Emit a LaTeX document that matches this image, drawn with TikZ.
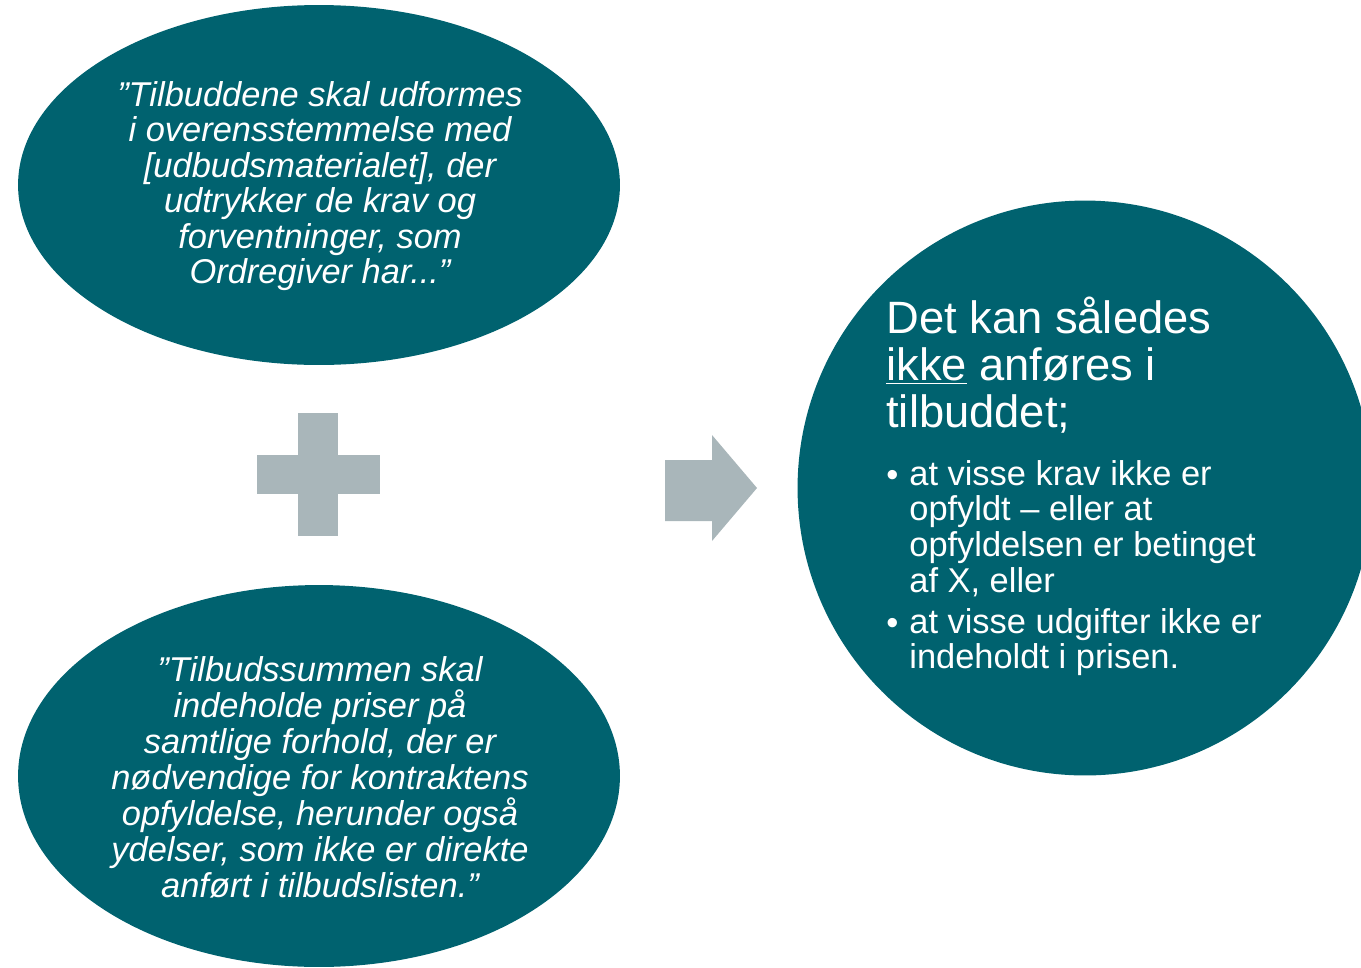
\documentclass[tikz,border=0pt]{standalone}
\usepackage{fontspec}
\setmainfont{Liberation Sans}
\usetikzlibrary{shapes.geometric}

\definecolor{petrol}{HTML}{00626F}
\definecolor{slate}{HTML}{A9B6BA}

\begin{document}
\begin{tikzpicture}[x=0.02cm, y=-0.02cm,
    bubble/.style={ellipse, fill=petrol, inner sep=0pt},
    quote/.style={text=white, align=center, inner sep=0pt,
        font=\fontsize{19.6}{20.2}\selectfont\itshape},
    bodytext/.style={text=white, align=left, inner sep=0pt, anchor=north west,
        font=\fontsize{19.6}{20.3}\selectfont}]
    % Canvas
    \useasboundingbox (0,0) rectangle (1361,967);
    \clip (0,0) rectangle (1361,967);

    % Upper quote
    \node[bubble, minimum width=12.04cm, minimum height=7.2cm] (upper) at (319,185) {};
    \node[quote] (uppertext) at (320,186) {”Tilbuddene skal udformes\\ i overensstemmelse med\\ {[}udbudsmaterialet{]}, der\\ udtrykker de krav og\\ forventninger, som\\ Ordregiver har...”};

    % Lower quote
    \node[bubble, minimum width=12.04cm, minimum height=7.64cm] (lower) at (319,776) {};
    \node[quote, font=\fontsize{19.6}{20.5}\selectfont\itshape] (lowertext) at (320,777) {”Tilbudssummen skal\\ indeholde priser på\\ samtlige forhold, der er\\ nødvendige for kontraktens\\ opfyldelse, herunder også\\ ydelser, som ikke er direkte\\ anført i tilbudslisten.”};

    % Plus sign
    \fill[slate] (257,455) rectangle (380,494);
    \fill[slate] (298,413) rectangle (338,536);

    % Arrow
    \fill[slate] (665,460) -- (712,460) -- (712,435) -- (757,488) -- (712,541)
        -- (712,521) -- (665,521) -- cycle;

    % Conclusion
    \node[circle, fill=petrol, inner sep=0pt, minimum size=11.5cm] (result) at (1085,488) {};
    \node[bodytext, font=\fontsize{25.8}{26.6}\selectfont] (heading) at (886,297) {Det kan således\\ \underline{ikke} anføres i\\ tilbuddet;};
    \node[bodytext, anchor=base west] (bulletone) at (886,486) {•};
    \node[bodytext] (itemone) at (909,460) {at visse krav ikke er\\ opfyldt – eller at\\ opfyldelsen er betinget\\ af X, eller};
    \node[bodytext, anchor=base west] (bullettwo) at (886,634) {•};
    \node[bodytext] (itemtwo) at (909,608) {at visse udgifter ikke er\\ indeholdt i prisen.};
\end{tikzpicture}
\end{document}
